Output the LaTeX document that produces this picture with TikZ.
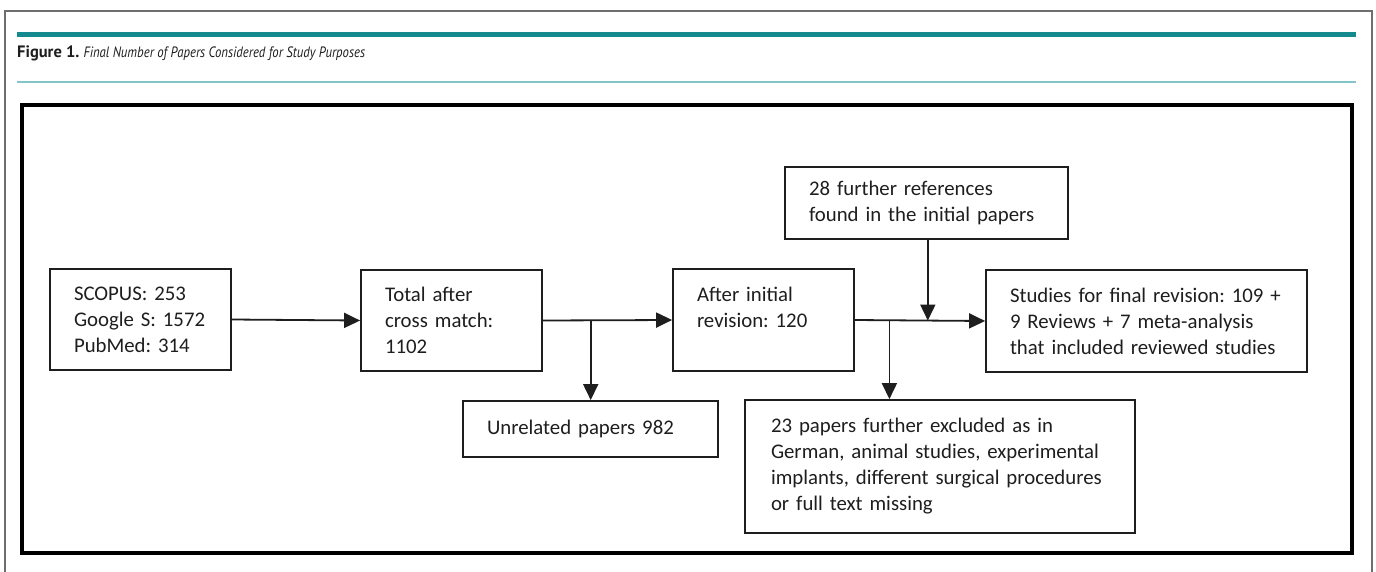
\documentclass[tikz,border=0pt]{standalone}
\usepackage{fontspec}
\setmainfont{Carlito}
\newfontfamily\titlefont{PT Sans}
\usetikzlibrary{arrows.meta,calc}
\definecolor{tealdark}{HTML}{148A8F}
\definecolor{teallight}{HTML}{84C5C7}
\definecolor{framegray}{HTML}{6E6E6E}
\definecolor{ink}{HTML}{1E1E1E}
\newcommand{\keepline}[1]{\mbox{#1}}
\frenchspacing
\begin{document}
\begin{tikzpicture}[x=1pt,y=-1pt,
  flowbox/.style={draw=ink, line width=1.8pt, rectangle, inner xsep=24pt, inner ysep=0pt,
    align=left, font=\fontsize{20.8}{26}\selectfont\frenchspacing, text=ink},
  arr/.style={draw=ink, line width=1.8pt, -{Triangle[length=16pt,width=15pt]}}]
\useasboundingbox (0,0) rectangle (1376,571);
\fill[white] (0,0) rectangle (1376,571);
% outer frame
\draw[framegray, line width=1.2pt] (5,575) -- (5,11) -- (1372,11) -- (1372,575);
% rules
\fill[tealdark] (17,32) rectangle (1356,37);
\fill[teallight] (17,80.5) rectangle (1356,82.5);
% title
\node[anchor=base west, inner sep=0pt, font=\titlefont, text=ink] (title) at (17,57)
  {{\fontsize{16.5}{19}\selectfont\bfseries Figure 1.}\hspace{4pt}\scalebox{0.85}[1]{\fontsize{15}{18}\selectfont\itshape Final Number of Papers Considered for Study Purposes}};
% inner frame
\draw[black, line width=3.5pt] (22,105) rectangle (1352,553);
% boxes
\node[flowbox, text width=133pt, minimum height=101pt] (scopus) at (140.5,319.5)
  {\keepline{SCOPUS: 253}\\\keepline{Google S: 1572}\\\keepline{PubMed: 314}};
\node[flowbox, text width=133pt, minimum height=101pt] (total) at (451.5,320.5)
  {\keepline{Total after}\\\keepline{cross match:}\\1102};
\node[flowbox, text width=133pt, minimum height=102pt] (after) at (763.5,320)
  {\keepline{After initial}\\\keepline{revision: 120}\\\mbox{}};
\node[flowbox, text width=235pt, minimum height=72pt] (further) at (926.5,203)
  {\keepline{28 further references}\\\keepline{found in the initial papers}};
\node[flowbox, text width=273pt, minimum height=102pt] (studies) at (1146.5,321)
  {\keepline{Studies for final revision: 109 +}\\\keepline{9 Reviews + 7 meta-analysis}\\\keepline{that included reviewed studies}};
\node[flowbox, text width=207pt, minimum height=56pt] (unrel) at (590.5,429)
  {\keepline{Unrelated papers 982}};
\node[flowbox, inner xsep=26pt, text width=338pt, minimum height=133pt] (excl) at (940,466.5)
  {\keepline{23 papers further excluded as in}\\\keepline{German, animal studies, experimental}\\\keepline{implants, different surgical procedures}\\\keepline{or full text missing}};
% connectors
\draw[arr] (scopus.east) -- (total.west);
\draw[arr] (total.east) -- (after.west);
\coordinate (b1) at ($(total.east)!0.37!(after.west)$);
\draw[arr] (b1) -- (b1 |- unrel.north);
\draw[arr] (after.east) -- (studies.west);
\coordinate (b2) at ($(after.east)!0.265!(studies.west)$);
\draw[arr] (b2) -- (b2 |- excl.north);
\coordinate (m) at ($(after.east)!0.56!(studies.west)$);
\draw[arr] (further.south -| m) -- (m);
\end{tikzpicture}
\end{document}
